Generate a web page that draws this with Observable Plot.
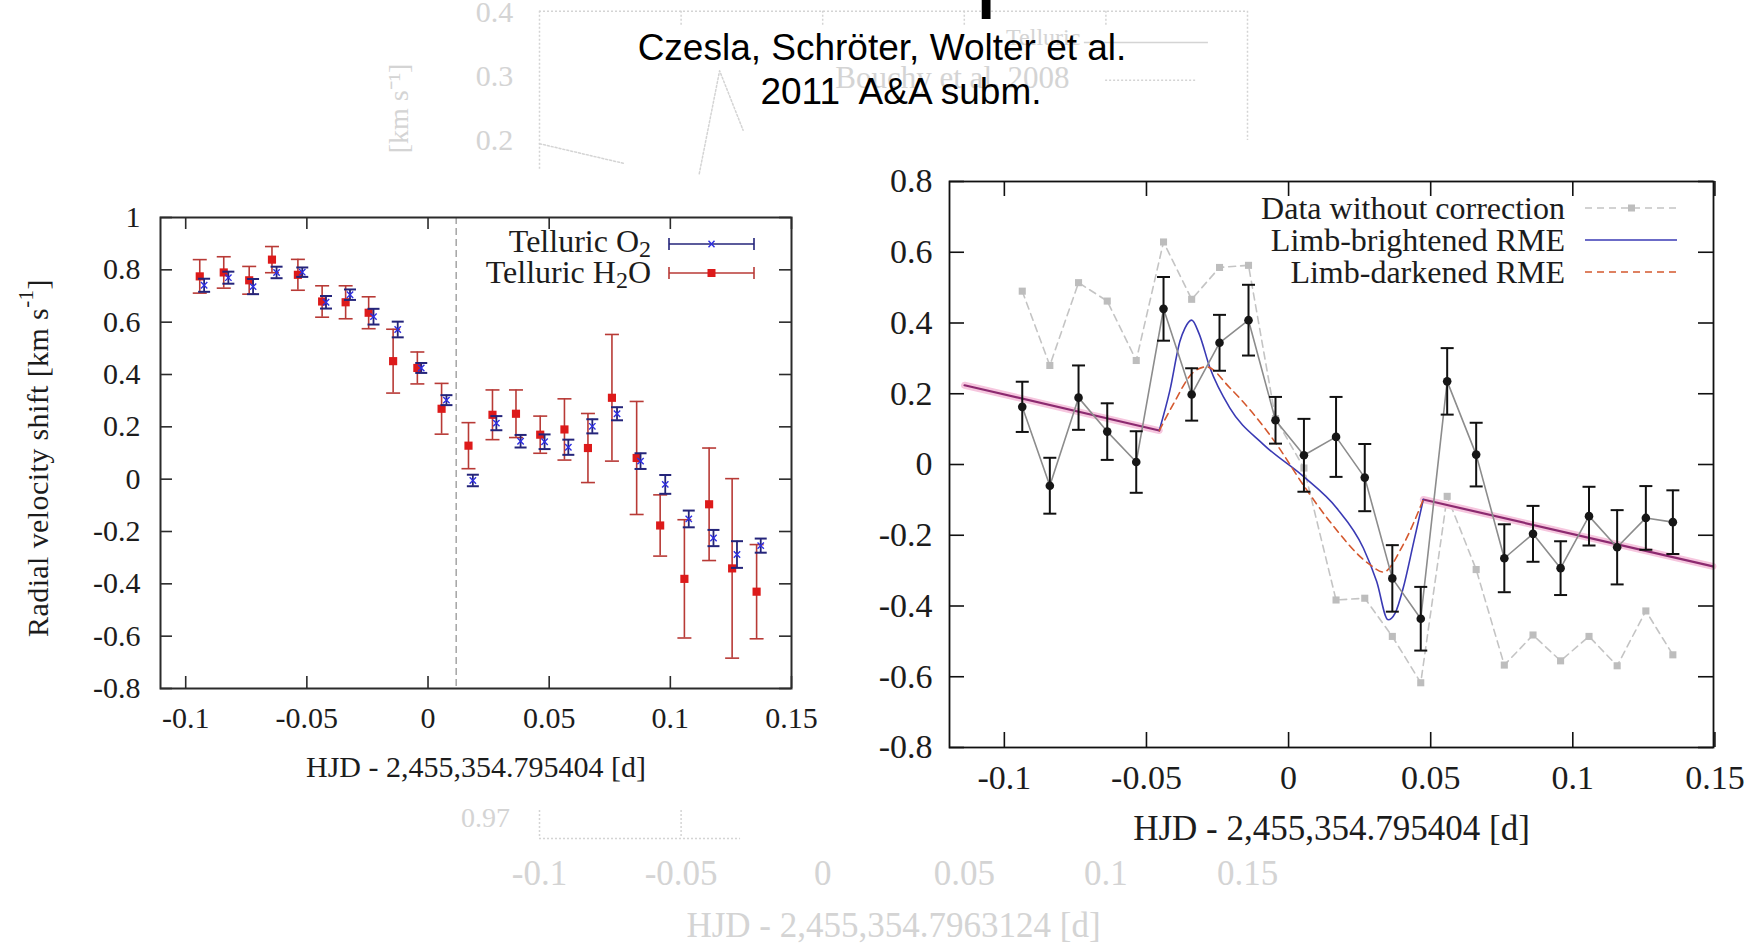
<!DOCTYPE html>
<html>
<head>
<meta charset="utf-8">
<script src="https://cdn.jsdelivr.net/npm/d3@7"></script>
<script src="https://cdn.jsdelivr.net/npm/@observablehq/plot@0.6"></script>
<style>
  html, body { margin: 0; padding: 0; background: #fff; }
  body { width: 1762px; height: 945px; position: relative; overflow: hidden; }
  .abs { position: absolute; }
  svg { overflow: visible; }
</style>
</head>
<body>
<div id="ghost" class="abs" style="left:0;top:0;"></div>
<div id="left" class="abs" style="left:0;top:180px;"></div>
<div id="right" class="abs" style="left:870px;top:150px;"></div>
<div id="titles" class="abs" style="left:0;top:0;"></div>
<script>
// ---------------- DATA ----------------
// Left panel: telluric line shifts
const h2oX   = [-0.0942,-0.0843,-0.0738,-0.0644,-0.0537,-0.0437,-0.0340,-0.0245,-0.0144,-0.0044,0.0056,0.0167,0.0266,0.0363,0.0463,0.0563,0.0660,0.0759,0.0861,0.0958,0.1058,0.1160,0.1255,0.1356];
const h2oY   = [0.775,0.790,0.760,0.839,0.781,0.679,0.676,0.636,0.451,0.425,0.269,0.128,0.246,0.250,0.170,0.190,0.119,0.311,0.081,-0.177,-0.381,-0.096,-0.341,-0.430];
const h2oErr = [0.064,0.060,0.053,0.050,0.059,0.060,0.063,0.061,0.122,0.061,0.097,0.088,0.095,0.091,0.071,0.117,0.132,0.242,0.216,0.117,0.226,0.215,0.343,0.180];
const o2X    = [-0.0924,-0.0824,-0.0722,-0.0625,-0.0519,-0.0421,-0.0322,-0.0225,-0.0125,-0.0028,0.0076,0.0185,0.0282,0.0382,0.0481,0.0579,0.0678,0.0780,0.0877,0.0979,0.1076,0.1178,0.1275,0.1373];
const o2Y    = [0.741,0.770,0.736,0.790,0.791,0.676,0.705,0.621,0.572,0.425,0.302,-0.005,0.214,0.145,0.143,0.122,0.202,0.250,0.069,-0.020,-0.152,-0.225,-0.288,-0.254];
const o2Err  = [0.025,0.023,0.029,0.022,0.018,0.024,0.020,0.030,0.030,0.019,0.019,0.022,0.027,0.024,0.028,0.029,0.027,0.025,0.030,0.036,0.032,0.031,0.051,0.027];
const leftMarkerX = 0.0116;
const leftXTicks = [-0.1,-0.05,0,0.05,0.1,0.15];
const leftXTickLabels = ["-0.1","-0.05","0","0.05","0.1","0.15"];
const leftYTicks = [-0.8,-0.6,-0.4,-0.2,0,0.2,0.4,0.6,0.8,1];
const leftYTickLabels = ["-0.8","-0.6","-0.4","-0.2","0","0.2","0.4","0.6","0.8","1"];
const xLabel = "HJD - 2,455,354.795404 [d]";

// Right panel: corrected RV residuals, uncorrected data, RME models
const rmX   = [-0.0937,-0.0840,-0.0739,-0.0638,-0.0536,-0.0440,-0.0341,-0.0243,-0.0141,-0.0046,0.0054,0.0167,0.0268,0.0365,0.0465,0.0558,0.0660,0.0759,0.0860,0.0957,0.1057,0.1156,0.1257,0.1352];
const rmY   = [0.163,-0.060,0.189,0.093,0.007,0.440,0.198,0.344,0.408,0.125,0.026,0.078,-0.037,-0.322,-0.436,0.235,0.028,-0.265,-0.196,-0.293,-0.146,-0.234,-0.151,-0.163];
const rmErr = [0.071,0.079,0.091,0.080,0.087,0.090,0.074,0.079,0.100,0.066,0.103,0.113,0.095,0.094,0.090,0.094,0.090,0.096,0.079,0.076,0.083,0.105,0.090,0.090];
const uncorrY = [0.490,0.280,0.514,0.462,0.294,0.629,0.467,0.557,0.563,0.130,-0.010,-0.383,-0.378,-0.486,-0.617,-0.090,-0.297,-0.567,-0.482,-0.555,-0.486,-0.569,-0.414,-0.538];
const ootX   = [-0.114,-0.0455,0.0474,0.1493];
const ootY   = [0.224,0.096,-0.099,-0.288];
const ootSeg = ["pre","pre","post","post"];
const brightX = [-0.0455,-0.0418,-0.0382,-0.0365,-0.0341,-0.0315,-0.0277,-0.0207,-0.0089,0.0051,0.0169,0.0263,0.0310,0.0350,0.0375,0.0403,0.0440,0.0474];
const brightY = [0.096,0.208,0.349,0.385,0.408,0.370,0.274,0.160,0.057,-0.033,-0.123,-0.236,-0.331,-0.439,-0.420,-0.350,-0.220,-0.099];
const darkX = [-0.0455,-0.0406,-0.0336,-0.0289,-0.0207,-0.0042,0.0051,0.0145,0.0286,0.0333,0.0403,0.0474];
const darkY = [0.096,0.170,0.260,0.276,0.217,0.057,-0.057,-0.161,-0.283,-0.304,-0.227,-0.099];
const rightXTicks = [-0.1,-0.05,0,0.05,0.1,0.15];
const rightXTickLabels = ["-0.1","-0.05","0","0.05","0.1","0.15"];
const rightYTicks = [-0.8,-0.6,-0.4,-0.2,0,0.2,0.4,0.6,0.8];
const rightYTickLabels = ["-0.8","-0.6","-0.4","-0.2","0","0.2","0.4","0.6","0.8"];

// Faded background slide remnants
const ghostTopY = 0.402, ghostLeftBottomY = 0.153, ghostRightBottomY = 0.2;
const ghostGridX = [-0.05,0,0.05,0.1], ghostGridBottomY = 0.38;
const ghostYTicks = [0.4,0.3,0.2], ghostYTickLabels = ["0.4","0.3","0.2"];
const ghostPeakX = [-0.0436,-0.0364,-0.0281], ghostPeakY = [0.148,0.309,0.216];
const ghostSlopeX = [-0.1,-0.07], ghostSlopeY = [0.195,0.164];
const ghostLegendText = ["Telluric","Bouchy et al. 2008"];
const ghostBottomY = -0.8906, ghostBottomTopY = -0.847, ghostBottomRightX = -0.029;
const ghostXTicks = [-0.1,-0.05,0,0.05,0.1,0.15];
const ghostXTickLabels = ["-0.1","-0.05","0","0.05","0.1","0.15"];
const ghostXLabel = "HJD - 2,455,354.7963124 [d]";

const subtitle1 = "Czesla, Schröter, Wolter et al.";
const subtitle2 = "2011\u00a0 A&A subm.";

// ---------------- HELPERS ----------------
const SERIF = '"Liberation Serif","Times New Roman",serif';
const SANS = '"Liberation Sans",Arial,sans-serif';
const labelFor = (ticks, labels) => d => labels[ticks.findIndex(t => Math.abs(t - d) < 1e-9)];
const capSymbol = { draw(ctx, size) { const r = Math.sqrt(size / Math.PI); ctx.moveTo(-r, 0); ctx.lineTo(r, 0); } };

const h2o = h2oX.map((x, i) => ({x, y: h2oY[i], e: h2oErr[i]}));
const o2  = o2X.map((x, i) => ({x, y: o2Y[i], e: o2Err[i]}));
const rm  = rmX.map((x, i) => ({x, y: rmY[i], e: rmErr[i]}));
const unc = rmX.map((x, i) => ({x, y: uncorrY[i]}));
const oot = ootX.map((x, i) => ({x, y: ootY[i], seg: ootSeg[i]}));
const bright = brightX.map((x, i) => ({x, y: brightY[i]}));
const dark = darkX.map((x, i) => ({x, y: darkY[i]}));

// ---------------- GHOST LAYER ----------------
const G = "#d4d4d4";
const ghost = Plot.plot({
  width: 1762, height: 945, margin: 0,
  style: {fontFamily: SERIF, background: "none"},
  x: {domain: [-0.1, 0.15], range: [539, 1247], axis: null},
  y: {domain: [0.4, 0.2], range: [12, 140], axis: null},
  marks: [
    Plot.ruleY([ghostTopY], {x1: -0.1, x2: 0.15, stroke: G, strokeWidth: 1.5, strokeDasharray: "2,2"}),
    Plot.ruleX([-0.1], {y1: ghostTopY, y2: ghostLeftBottomY, stroke: G, strokeWidth: 1.5, strokeDasharray: "2,2"}),
    Plot.ruleX([0.15], {y1: ghostTopY, y2: ghostRightBottomY, stroke: G, strokeWidth: 1.5, strokeDasharray: "2,2"}),
    Plot.ruleX(ghostGridX, {y1: ghostTopY, y2: ghostGridBottomY, stroke: G, strokeWidth: 1.5, strokeDasharray: "2,2"}),
    Plot.text(ghostYTicks, {x: -0.1, y: d => d, text: (d, i) => ghostYTickLabels[i], dx: -45, fontSize: 30, fill: G}),
    Plot.text(["[km s\u207B\u00B9]"], {x: -0.1, y: 0.25, text: d => d, dx: -140, rotate: -90, fontSize: 28, fill: G}),
    Plot.line(ghostPeakX.map((x, i) => ({x, y: ghostPeakY[i]})), {x: "x", y: "y", stroke: G, strokeWidth: 1.5, strokeDasharray: "2,2"}),
    Plot.line(ghostSlopeX.map((x, i) => ({x, y: ghostSlopeY[i]})), {x: "x", y: "y", stroke: G, strokeWidth: 1.5, strokeDasharray: "2,2"}),
    Plot.text([ghostLegendText[0]], {x: 0.091, y: 0.361, text: d => d, textAnchor: "end", fontSize: 24, fill: G}),
    Plot.ruleY([0.353], {x1: 0.0924, x2: 0.1362, stroke: G, strokeWidth: 1.5}),
    Plot.text([ghostLegendText[1]], {x: 0.0458, y: 0.298, text: d => d, fontSize: 31, fill: G}),
    Plot.ruleY([0.294], {x1: 0.0999, x2: 0.1323, stroke: G, strokeWidth: 1.5, strokeDasharray: "2,2"}),
    Plot.text(["0.97"], {x: -0.1, y: -0.8594, text: d => d, dx: -54, fontSize: 28, fill: G}),
    Plot.ruleY([ghostBottomY], {x1: -0.1, x2: ghostBottomRightX, stroke: G, strokeWidth: 1.5, strokeDasharray: "2,2"}),
    Plot.ruleX([-0.1, -0.05], {y1: ghostBottomTopY, y2: ghostBottomY, stroke: G, strokeWidth: 1.5, strokeDasharray: "2,2"}),
    Plot.text(ghostXTicks, {x: d => d, y: -0.9453, text: (d, i) => ghostXTickLabels[i], fontSize: 35, fill: G}),
    Plot.text([ghostXLabel], {x: 0.025, y: -1.0266, text: d => d, fontSize: 35, fill: G})
  ]
});
document.getElementById("ghost").append(ghost);

// ---------------- LEFT PANEL ----------------
const L = {w: 830, h: 610, ml: 160, mr: 39, mt: 37, mb: 102};
const LfH = L.h - L.mt - L.mb, LfW = L.w - L.ml - L.mr, LT = 12;
const RED_BAR = "#b83a36", RED_PT = "#dd1a1a", BLUE_BAR = "#24247a", BLUE_PT = "#2f2fe0", AX = "#2b2b2b";
const left = Plot.plot({
  width: L.w, height: L.h, marginLeft: L.ml, marginRight: L.mr, marginTop: L.mt, marginBottom: L.mb,
  style: {fontFamily: SERIF, fontSize: "30px", color: "#1c1c1c", background: "none"},
  x: {domain: [-0.1104, 0.15], axis: null},
  y: {domain: [-0.8, 1], axis: null},
  marks: [
    Plot.ruleX([leftMarkerX], {stroke: "#777", strokeWidth: 1, strokeDasharray: "7,4"}),
    Plot.ruleX(h2o, {x: "x", y1: d => d.y - d.e, y2: d => d.y + d.e, stroke: RED_BAR, strokeWidth: 1.6}),
    Plot.dot(h2o, {x: "x", y: d => d.y + d.e, symbol: capSymbol, r: 7, fill: "none", stroke: RED_BAR, strokeWidth: 1.6}),
    Plot.dot(h2o, {x: "x", y: d => d.y - d.e, symbol: capSymbol, r: 7, fill: "none", stroke: RED_BAR, strokeWidth: 1.6}),
    Plot.dot(h2o, {x: "x", y: "y", symbol: "square", r: 4.6, fill: RED_PT, stroke: "none"}),
    Plot.ruleX(o2, {x: "x", y1: d => d.y - d.e, y2: d => d.y + d.e, stroke: BLUE_BAR, strokeWidth: 1.8}),
    Plot.dot(o2, {x: "x", y: d => d.y + d.e, symbol: capSymbol, r: 6, fill: "none", stroke: BLUE_BAR, strokeWidth: 2}),
    Plot.dot(o2, {x: "x", y: d => d.y - d.e, symbol: capSymbol, r: 6, fill: "none", stroke: BLUE_BAR, strokeWidth: 2}),
    Plot.dot(o2, {x: "x", y: "y", symbol: "times", r: 3, stroke: BLUE_PT, strokeWidth: 1.4}),
    Plot.frame({stroke: AX, strokeWidth: 2}),
    Plot.tickX(leftXTicks, {x: d => d, insetTop: LfH - LT, stroke: AX, strokeWidth: 1.6}),
    Plot.tickX(leftXTicks, {x: d => d, insetBottom: LfH - LT, stroke: AX, strokeWidth: 1.6}),
    Plot.tickY(leftYTicks, {y: d => d, insetRight: LfW - LT, stroke: AX, strokeWidth: 1.6}),
    Plot.tickY(leftYTicks, {y: d => d, insetLeft: LfW - LT, stroke: AX, strokeWidth: 1.6}),
    Plot.axisX({ticks: leftXTicks, tickSize: 0, tickPadding: 18, tickFormat: labelFor(leftXTicks, leftXTickLabels), label: null, fontSize: 30}),
    Plot.axisY({ticks: leftYTicks, tickSize: 0, tickPadding: 20, tickFormat: labelFor(leftYTicks, leftYTickLabels), label: null, fontSize: 30}),
    Plot.text([xLabel], {frameAnchor: "bottom", dy: 79, text: d => d, fontSize: 30, lineAnchor: "middle", fill: "#1c1c1c"})
  ]
});
document.getElementById("left").append(left);
{
  const s = d3.select(left);
  // y-axis label with superscript
  const yl = s.append("text").attr("transform", "translate(37,278) rotate(-90)")
    .attr("text-anchor", "middle").attr("dominant-baseline", "central")
    .attr("font-family", SERIF).attr("font-size", 30).attr("fill", "#1c1c1c").attr("letter-spacing", 0.4);
  yl.append("tspan").text("Radial velocity shift [km s");
  yl.append("tspan").attr("font-size", 21).attr("dy", -11).text("-1");
  yl.append("tspan").attr("dy", 11).text("]");
  // legend
  const g = s.append("g").attr("font-family", SERIF).attr("font-size", 32).attr("fill", "#1c1c1c");
  const t1 = g.append("text").attr("x", 651).attr("y", 61).attr("text-anchor", "end").attr("dominant-baseline", "central");
  t1.append("tspan").text("Telluric O");
  t1.append("tspan").attr("font-size", 24).attr("dy", 8).text("2");
  const t2 = g.append("text").attr("x", 651).attr("y", 92).attr("text-anchor", "end").attr("dominant-baseline", "central");
  t2.append("tspan").text("Telluric H");
  t2.append("tspan").attr("font-size", 24).attr("dy", 8).text("2");
  t2.append("tspan").attr("dy", -8).text("O");
  const rows = [{y: 64, c: BLUE_BAR}, {y: 93, c: RED_BAR}];
  rows.forEach(r => {
    g.append("line").attr("x1", 669).attr("x2", 754).attr("y1", r.y).attr("y2", r.y).attr("stroke", r.c).attr("stroke-width", 1.6);
    [669, 754].forEach(x => g.append("line").attr("x1", x).attr("x2", x).attr("y1", r.y - 6).attr("y2", r.y + 6).attr("stroke", r.c).attr("stroke-width", 1.6));
  });
  g.append("path").attr("d", "M708.5,60.8L714.5,67.2M708.5,67.2L714.5,60.8").attr("stroke", BLUE_PT).attr("stroke-width", 1.4);
  g.append("rect").attr("x", 707.5).attr("y", 89).attr("width", 8).attr("height", 8).attr("fill", RED_PT);
}

// ---------------- RIGHT PANEL ----------------
const R = {w: 892, h: 710, ml: 79, mr: 49, mt: 31, mb: 113};
const RfH = R.h - R.mt - R.mb, RfW = R.w - R.ml - R.mr, RT = 15;
const BLUE_M = "#3a3ab4", RED_M = "#d4582e", GRAY_U = "#c4c4c4";
const right = Plot.plot({
  width: R.w, height: R.h, marginLeft: R.ml, marginRight: R.mr, marginTop: R.mt, marginBottom: R.mb,
  style: {fontFamily: SERIF, fontSize: "34px", color: "#1c1c1c", background: "none"},
  x: {domain: [-0.1193, 0.1495], axis: null},
  y: {domain: [-0.8, 0.8], axis: null},
  marks: [
    Plot.line(unc, {x: "x", y: "y", stroke: GRAY_U, strokeWidth: 1.6, strokeDasharray: "7,5"}),
    Plot.dot(unc, {x: "x", y: "y", symbol: "square", r: 4, fill: "#bdbdbd", stroke: "none"}),
    Plot.line(oot, {x: "x", y: "y", z: "seg", stroke: "#f6c6de", strokeWidth: 7}),
    Plot.line(oot, {x: "x", y: "y", z: "seg", stroke: "#8c2a70", strokeWidth: 2.2}),
    Plot.line(bright, {x: "x", y: "y", stroke: BLUE_M, strokeWidth: 1.6, curve: "monotone-x"}),
    Plot.line(dark, {x: "x", y: "y", stroke: RED_M, strokeWidth: 1.6, strokeDasharray: "7,5", curve: "monotone-x"}),
    Plot.line(rm, {x: "x", y: "y", stroke: "#8c8c8c", strokeWidth: 1.6}),
    Plot.ruleX(rm, {x: "x", y1: d => d.y - d.e, y2: d => d.y + d.e, stroke: "#111", strokeWidth: 2}),
    Plot.dot(rm, {x: "x", y: d => d.y + d.e, symbol: capSymbol, r: 6.5, fill: "none", stroke: "#111", strokeWidth: 2}),
    Plot.dot(rm, {x: "x", y: d => d.y - d.e, symbol: capSymbol, r: 6.5, fill: "none", stroke: "#111", strokeWidth: 2}),
    Plot.dot(rm, {x: "x", y: "y", r: 4.3, fill: "#161616", stroke: "none"}),
    Plot.frame({stroke: "#111", strokeWidth: 1.8}),
    Plot.tickX(rightXTicks, {x: d => d, insetTop: RfH - RT, stroke: "#111", strokeWidth: 1.6}),
    Plot.tickX(rightXTicks, {x: d => d, insetBottom: RfH - RT, stroke: "#111", strokeWidth: 1.6}),
    Plot.tickY(rightYTicks, {y: d => d, insetRight: RfW - RT, stroke: "#111", strokeWidth: 1.6}),
    Plot.tickY(rightYTicks, {y: d => d, insetLeft: RfW - RT, stroke: "#111", strokeWidth: 1.6}),
    Plot.axisX({ticks: rightXTicks, tickSize: 0, tickPadding: 17, tickFormat: labelFor(rightXTicks, rightXTickLabels), label: null, fontSize: 34}),
    Plot.axisY({ticks: rightYTicks, tickSize: 0, tickPadding: 17, tickFormat: labelFor(rightYTicks, rightYTickLabels), label: null, fontSize: 34}),
    Plot.text([xLabel], {frameAnchor: "bottom", dy: 81, text: d => d, fontSize: 35, lineAnchor: "middle", fill: "#1c1c1c"})
  ]
});
document.getElementById("right").append(right);
{
  const s = d3.select(right);
  const g = s.append("g").attr("font-family", SERIF).attr("font-size", 32).attr("fill", "#1c1c1c");
  const labels = ["Data without correction", "Limb-brightened RME", "Limb-darkened RME"];
  const ys = [58, 90, 122];
  labels.forEach((t, i) => g.append("text").attr("x", 695).attr("y", ys[i]).attr("text-anchor", "end").attr("dominant-baseline", "central").text(t));
  g.append("line").attr("x1", 715).attr("x2", 807).attr("y1", ys[0]).attr("y2", ys[0]).attr("stroke", GRAY_U).attr("stroke-width", 1.6).attr("stroke-dasharray", "7,5");
  g.append("rect").attr("x", 758).attr("y", ys[0] - 3.5).attr("width", 7).attr("height", 7).attr("fill", "#bdbdbd");
  g.append("line").attr("x1", 715).attr("x2", 807).attr("y1", ys[1]).attr("y2", ys[1]).attr("stroke", BLUE_M).attr("stroke-width", 1.6);
  g.append("line").attr("x1", 715).attr("x2", 807).attr("y1", ys[2]).attr("y2", ys[2]).attr("stroke", RED_M).attr("stroke-width", 1.6).attr("stroke-dasharray", "7,5");
}

// ---------------- TITLES ----------------
{
  const svg = d3.select("#titles").append("svg").attr("width", 1762).attr("height", 945).style("overflow", "hidden");
  svg.append("text").attr("x", 975).attr("y", -2).attr("font-family", SANS).attr("font-size", 100).attr("fill", "#000").text("p");
  svg.append("text").attr("x", 882).attr("y", 60).attr("text-anchor", "middle").attr("font-family", SANS).attr("font-size", 37).attr("fill", "#000").text(subtitle1);
  svg.append("text").attr("x", 901).attr("y", 104).attr("text-anchor", "middle").attr("font-family", SANS).attr("font-size", 37).attr("fill", "#000").text(subtitle2);
}
</script>
</body>
</html>
